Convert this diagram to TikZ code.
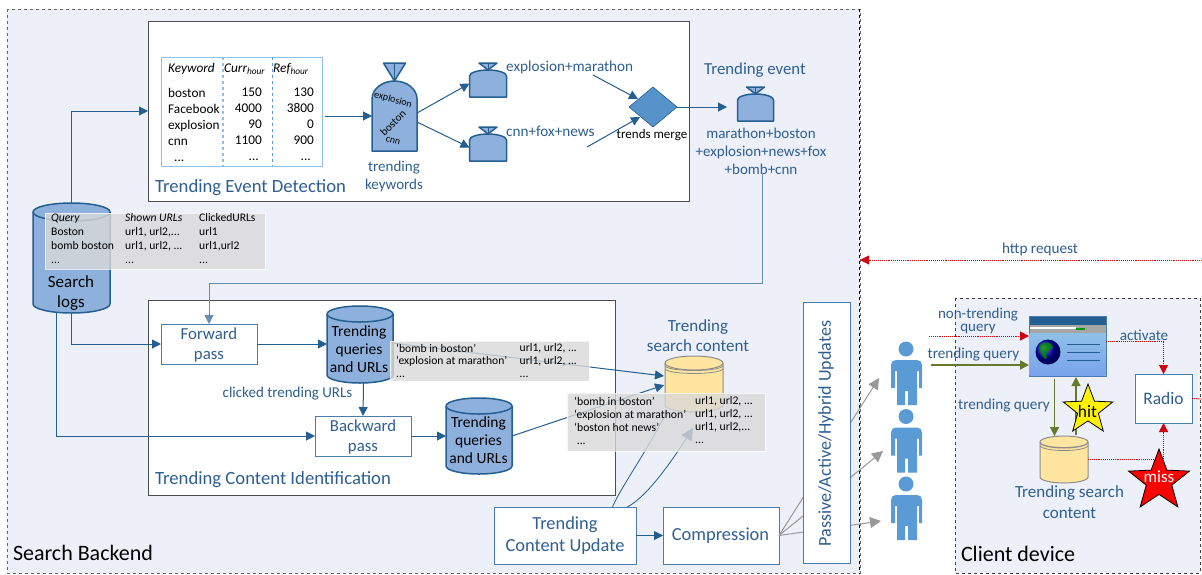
\documentclass[tikz,border=0pt]{standalone}
\usepackage{fontspec}
\setmainfont{Carlito}
\usetikzlibrary{arrows.meta,shapes.geometric}
\definecolor{bgc}{HTML}{EDF0F8}
\definecolor{txtb}{HTML}{2F5F92}
\definecolor{strk}{HTML}{255E91}
\definecolor{fillb}{HTML}{8DB1DC}
\definecolor{midb}{HTML}{5B9BD5}
\definecolor{ltb}{HTML}{8FC0E8}
\definecolor{boxb}{HTML}{4A7CAE}
\definecolor{oliv}{HTML}{667A2E}
\definecolor{redd}{HTML}{D00010}
\definecolor{yel}{HTML}{FFE5A0}
\definecolor{gryy}{HTML}{D9D9D9}
\tikzset{
 x=1pt,y=-1pt,
 panel/.style={draw=black!70,line width=1pt,fill=white,inner sep=0,outer sep=0},
 bluebox/.style={draw=boxb,line width=1pt,fill=white,inner sep=0,outer sep=0},
 btext/.style={text=txtb,inner sep=0,align=center,font=\fontsize{15}{18}\selectfont},
 boxtext/.style={btext,font=\fontsize{16.8}{20}\selectfont},
 bigtext/.style={btext,font=\fontsize{18.4}{22}\selectfont},
 ttext/.style={text=black,inner sep=0,font=\fontsize{13.3}{16}\selectfont},
 gtext/.style={text=black,inner sep=0,font=\fontsize{11.6}{14}\selectfont,align=left},
 conn/.style={draw=strk,line width=1pt,-{Triangle[length=9pt,width=9pt]}},
 reddot/.style={draw=redd,line width=1pt,dash pattern=on 1pt off .9pt,-{Triangle[length=9pt,width=9pt]}},
 olive/.style={draw=oliv,line width=1.2pt,-{Triangle[length=9pt,width=9pt]}},
 gryarrow/.style={draw=black!40,line width=1pt,-{Triangle[length=11pt,width=11pt]}},
 overlay box/.style={fill=gryy,fill opacity=.8,draw=white,draw opacity=.7,line width=1pt,inner sep=0,outer sep=0},
 hold/.style={inner sep=0,outer sep=0},
}
\newcommand{\mycyl}[9]{%
 \pgfmathsetmacro\cxa{(#2+#3)/2}\pgfmathsetmacro\rxa{(#3-#2)/2}%
 \pgfmathsetmacro\cya{(#4+#5)/2}\pgfmathsetmacro\wa{#3-#2}\pgfmathsetmacro\ha{#5-#4}%
 \pgfmathsetmacro\ta{#4+#6}\pgfmathsetmacro\ba{#5-#6}\pgfmathsetmacro\kx{\rxa*.55}\pgfmathsetmacro\ky{#6*.55}%
 \draw[fill=#7,draw=#8,line width=#9] (#2,\ta) -- (#2,\ba) .. controls (#2,\ba+\ky) and (\cxa-\kx,#5) .. (\cxa,#5) .. controls (\cxa+\kx,#5) and (#3,\ba+\ky) .. (#3,\ba) -- (#3,\ta) .. controls (#3,\ta-\ky) and (\cxa+\kx,#4) .. (\cxa,#4) .. controls (\cxa-\kx,#4) and (#2,\ta-\ky) .. cycle;
 \draw[draw=#8,line width=#9] (#2,\ta) .. controls (#2,\ta+\ky) and (\cxa-\kx,\ta+#6) .. (\cxa,\ta+#6) .. controls (\cxa+\kx,\ta+#6) and (#3,\ta+\ky) .. (#3,\ta);
 \node[hold,minimum width=\wa pt,minimum height=\ha pt] (#1) at (\cxa,\cya) {};
}
\newcommand{\mybag}[8]{%
 \pgfmathsetmacro\cxa{(#2+#3)/2}\pgfmathsetmacro\wa{#3-#2}\pgfmathsetmacro\ha{#6-#5}\pgfmathsetmacro\cya{(#5+#6)/2}%
 \pgfmathsetmacro\sha{#5+#8}\pgfmathsetmacro\kx{(\wa/2)*.55}\pgfmathsetmacro\ky{#8*.55}%
 \draw[fill=fillb,draw=strk,line width=1.5pt,line join=round] (#2,#6) -- (#2,\sha) .. controls (#2,\sha-\ky) and (\cxa-\kx,#5) .. (\cxa,#5) .. controls (\cxa+\kx,#5) and (#3,\sha-\ky) .. (#3,\sha) -- (#3,#6) -- cycle;
 \draw[fill=fillb,draw=strk,line width=1.5pt,line join=round] (\cxa,#5) -- (\cxa-#7,#4) -- (\cxa+#7,#4) -- cycle;
 \draw[draw=strk,line width=1pt] (\cxa,#5) -- (\cxa,#4);
 \node[hold,minimum width=\wa pt,minimum height=\ha pt] (#1) at (\cxa,\cya) {};
}
\newcommand{\myperson}[3]{%
 \begin{scope}[shift={(#2,#3)}]
 \fill[midb] (0,349) circle[radius=7.5];
 \fill[midb] (-15,365) .. controls (-15,362) and (-13,360) .. (-10,360) -- (11,360) .. controls (14,360) and (16,362) .. (16,365) -- (16,388) -- (13,388) -- (13,371) -- (11,371) -- (11,405) -- (2,405) -- (2,391) -- (-1,391) -- (-1,405) -- (-9,405) -- (-9,371) -- (-11,371) -- (-11,388) -- (-15,388) -- cycle;
 \node[hold,minimum width=31pt,minimum height=64pt] (#1) at (0,373) {};
 \end{scope}
}
\newcommand{\mystar}[4]{%
 \pgfmathsetmacro\rin{#3*.42}%
 \begin{scope}[shift={(#1,#2)}]
 \draw[fill=#4,draw=black,line width=.8pt,line join=miter] (90:#3pt) -- (126:\rin pt) -- (162:#3pt) -- (198:\rin pt) -- (234:#3pt) -- (270:\rin pt) -- (306:#3pt) -- (342:\rin pt) -- (18:#3pt) -- (54:\rin pt) -- cycle;
 \end{scope}
}
\begin{document}
\begin{tikzpicture}
\useasboundingbox (0,0) rectangle (1202,574);
\fill[white] (0,0) rectangle (1202,574);
\draw[fill=bgc,draw=black!60,line width=1pt,dashed] (7,9) rectangle (860,573);
\draw[draw=black,line width=.8pt,dashed] (859.5,9) -- (859.5,574);
\draw[fill=bgc,draw=black!75,line width=1pt,dashed] (955,298) rectangle (1200,573);
\node[hold,text=black,anchor=west,font=\fontsize{22}{24}\selectfont] (backendlbl) at (13,553) {Search Backend};
\node[hold,text=black,anchor=west,font=\fontsize{22}{24}\selectfont] (clientlbl) at (961,554) {Client device};
\node[panel,minimum width=541pt,minimum height=180pt] (detect) at (418.5,111) {};
\node[panel,minimum width=467pt,minimum height=195pt] (identify) at (381.5,397.5) {};
\node[btext,anchor=west,font=\fontsize{18.7}{22}\selectfont] (detectlbl) at (155,188) {Trending Event Detection};
\node[btext,anchor=west,font=\fontsize{18.7}{22}\selectfont] (identlbl) at (155,480) {Trending Content Identification};
\node[hold,draw=ltb,line width=1pt,fill=white,minimum width=161pt,minimum height=109pt] (kwtable) at (241.5,111.5) {};
\draw[ltb,line width=1.2pt,dashed] (223,57) -- (223,166);
\draw[midb,line width=.8pt,dashed] (272.5,57) -- (272.5,166);
\node[ttext,anchor=west] (h1) at (168,69) {\itshape Keyword};
\node[ttext,anchor=west] (h2) at (224,69) {\itshape Curr\textsubscript{hour}};
\node[ttext,anchor=west] (h3) at (273,69) {\itshape Ref\textsubscript{hour}};
\node[ttext,anchor=north west,align=left] (c1) at (168,88) {boston\\Facebook\\explosion\\cnn\\\ \ ...};
\node[ttext,anchor=north east,align=right] (c2) at (262,88) {150\\4000\\90\ \\1100\\...\ \ };
\node[ttext,anchor=north east,align=right] (c3) at (314,88) {130\\3800\\0\ \\900\\...\ \ };
\mybag{kwbag}{372}{417}{63}{81}{151}{11}{18}
\node[hold,text=black,rotate=-15,font=\fontsize{10}{12}\selectfont] (bk1) at (393,100) {explosion};
\node[hold,text=black,rotate=45,font=\fontsize{11}{12}\selectfont] (bk2) at (393,123) {boston};
\node[hold,text=black,rotate=-15,font=\fontsize{10}{12}\selectfont] (bk3) at (393,141) {cnn};
\mybag{bagA}{469.5}{506.5}{63}{70}{97}{9}{6}
\mybag{bagB}{469.5}{506.5}{127}{134}{161}{9}{6}
\mybag{bagC}{737.5}{773.5}{87}{94}{121}{9}{6}
\node[hold,diamond,aspect=1.2,fill=midb!95!black,draw=strk,line width=.6pt,minimum width=48pt,minimum height=40pt] (merge) at (653,107) {};
\node[btext,text=black,font=\fontsize{13}{16}\selectfont] (mergelbl) at (652,135) {trends merge};
\node[btext,anchor=west,font=\fontsize{15.2}{17}\selectfont] (keyA) at (506,67) {explosion+marathon};
\node[btext,anchor=west,font=\fontsize{15.2}{17}\selectfont] (keyB) at (506,131) {cnn+fox+news};
\node[btext] (trkw) at (394,176) {trending\\keywords};
\node[btext,font=\fontsize{16.8}{20}\selectfont] (evtlbl) at (755,70) {Trending event};
\node[btext,font=\fontsize{15}{18}\selectfont] (evt) at (761,151) {marathon+boston\\+explosion+news+fox\\+bomb+cnn};
\mycyl{logs}{33}{110}{203}{313}{9}{fillb}{strk}{1.5pt}
\node[hold,text=black,align=center,font=\fontsize{17}{20}\selectfont] (logslbl) at (71,293) {Search\\logs};
\mycyl{tq}{327}{393}{306}{383}{8}{fillb}{strk}{1.5pt}
\node[hold,text=black,align=center,font=\fontsize{15.5}{18}\selectfont] (tqlbl) at (359,349) {Trending\\queries\\and URLs};
\mycyl{tqb}{446}{512}{398}{474}{8}{fillb}{strk}{1.5pt}
\node[hold,text=black,align=center,font=\fontsize{15.5}{18}\selectfont] (tqblbl) at (478.5,440.5) {Trending\\queries\\and URLs};
\node[bluebox,minimum width=96pt,minimum height=40pt] (fwd) at (209,344) {};
\node[boxtext] (fwdlbl) at (209,345) {Forward\\pass};
\node[bluebox,minimum width=96pt,minimum height=40pt] (bwd) at (363,436) {};
\node[boxtext] (bwdlbl) at (363,437) {Backward\\pass};
\node[btext,font=\fontsize{15}{17}\selectfont] (clk) at (287.5,394) {clicked trending URLs};
\mycyl{yc}{665}{723}{356}{412}{7}{yel}{black!45}{1pt}
\draw[black!45,line width=.8pt] (665,366) .. controls (670,372) and (718,372) .. (723,366);
\draw[black!45,line width=.8pt] (665,369) .. controls (670,375) and (718,375) .. (723,369);
\node[btext,font=\fontsize{17}{20}\selectfont] (yclbl) at (698,336) {Trending\\search content};
\coordinate (curveA) at (667,411);
\coordinate (curveB) at (693,428);
\coordinate (curveS) at (612,508);
\draw[draw=strk,line width=.8pt] (curveS) .. controls (622,485) and (648,450) .. (curveA);
\draw[draw=strk,line width=.8pt,-{Triangle[length=12pt,width=12pt]}] (curveS) .. controls (625,516) and (650,495) .. (curveB);
\node[bluebox,minimum width=142pt,minimum height=57pt] (tcu) at (565,535.5) {};
\node[bigtext] (tculbl) at (565,536) {Trending\\Content Update};
\node[bluebox,minimum width=116pt,minimum height=57pt] (comp) at (721,535.5) {};
\node[bigtext] (complbl) at (720.5,536) {Compression};
\coordinate (pa) at (879,378);
\coordinate (pb) at (883,451);
\coordinate (pc) at (881,521);
\draw[gryarrow] (comp.east) -- (pa);
\draw[gryarrow] (comp.east) -- (pb);
\draw[gryarrow] (comp.east) -- (pc);
\node[bluebox,minimum width=47pt,minimum height=261pt] (upd) at (826.5,432.5) {};
\node[btext,rotate=90,font=\fontsize{18.1}{20}\selectfont] (updlbl) at (826,433.5) {Passive/Active/Hybrid Updates};
\myperson{p1}{906}{0}
\myperson{p2}{906}{67.5}
\myperson{p3}{906}{135}
\draw[conn] (logs.north) |- (detect.west);
\draw[conn] (logs.south) |- (fwd.west);
\draw[conn] ([xshift=-15pt]logs.south) |- (bwd.west);
\draw[conn] (kwtable.east |- kwbag.west) ++(3,0) -- (kwbag.west);
\draw[conn] ([yshift=3pt]kwbag.east) -- (bagA.west);
\draw[conn] ([yshift=-6pt]kwbag.east) -- (bagB.west);
\coordinate (ka) at (593,75);
\coordinate (kb) at (587,147);
\coordinate (kc) at (638,99);
\coordinate (kd) at (640,117);
\coordinate (ke) at (727,107);
\draw[conn] (ka) -- (kc);
\draw[conn] (kb) -- (kd);
\draw[conn] (merge.east) -- (ke);
\draw[conn,draw=strk!70] (evt.south) ++(1,0) coordinate (ev) -- (ev |- 0,283) -- (fwd.north |- 0,283) -- (fwd.north);
\draw[conn] (fwd.east) -- (tq.west |- fwd.east);
\draw[conn] ([xshift=3.5pt]tq.south) -- (bwd.north);
\draw[conn] (bwd.east) -- (tqb.west);
\draw[conn] (tcu.east) -- (comp.west);
\coordinate (tqout) at (392,343);
\coordinate (yca) at (664,376);
\coordinate (ycb) at (664,385);
\draw[conn] (tqout) -- (yca);
\draw[conn] (tqb.east) -- (ycb);
\node[overlay box,minimum width=220pt,minimum height=56pt] (gA) at (155,241) {};
\node[gtext,anchor=north west] (gA1) at (51,213.5) {\itshape Query\\\upshape Boston\\bomb boston\\...};
\node[gtext,anchor=north west] (gA2) at (125,213.5) {\itshape Shown URLs\\\upshape url1, url2,...\\url1, url2, ...\\...};
\node[gtext,anchor=north west] (gA3) at (199,213.5) {ClickedURLs\\url1\\url1,url2\\...};
\node[overlay box,minimum width=199pt,minimum height=40pt] (gB) at (489.5,361) {};
\node[gtext,anchor=north west,font=\fontsize{11.6}{12.7}\selectfont] (gB1) at (396,343.5) {‘bomb in boston’\\‘explosion at marathon’\\...};
\node[gtext,anchor=north west,font=\fontsize{11.6}{12.7}\selectfont] (gB2) at (519.5,343.5) {url1, url2, ...\\url1, url2, ...\\...};
\node[overlay box,minimum width=198pt,minimum height=58pt] (gC) at (666,422) {};
\node[gtext,anchor=north west,font=\fontsize{11.7}{13}\selectfont] (gC1) at (574,396.5) {‘bomb in boston’\\‘explosion at marathon’\\‘boston hot news’\\\ ...};
\node[gtext,anchor=north west,font=\fontsize{11.7}{13}\selectfont] (gC2) at (695,396.5) {url1, url2, ...\\url1, url2, ...\\url1, url2,...\\...};
\node[hold,fill=white,draw=boxb,line width=1pt,minimum width=57pt,minimum height=49pt,text=txtb,font=\fontsize{17.5}{20}\selectfont] (radio) at (1163.5,398.5) {Radio};
\node[hold,draw=boxb,line width=1pt,minimum width=77pt,minimum height=60pt] (browser) at (1067.5,346) {};
\shade[top color=ltb,middle color=white!75!ltb,bottom color=ltb!85!blue] (1029.5,333) rectangle (1105.5,375.5);
\fill[strk] (1029.5,316.5) rectangle (1105.5,325);
\fill[black!35] (1029.5,325) rectangle (1105.5,333);
\fill[white] (1030,327) rectangle (1076,329);
\fill[green!60!black] (1076,328) rectangle (1085,329.5);
\shade[ball color=blue!70!black] (1048,352) circle[radius=12.5];
\fill[green!55!black,opacity=.8] (1040,345) .. controls (1046,340) and (1052,343) .. (1053,347) .. controls (1050,352) and (1044,350) .. (1047,358) -- (1045,359) .. controls (1041,356) and (1039,350) .. cycle;
\draw[strk,line width=.8pt] (1067,344.5) -- (1100,344.5);
\draw[strk,line width=.8pt] (1067,352.5) -- (1100,352.5);
\draw[strk,line width=.8pt] (1067,360.5) -- (1100,360.5);
\mycyl{ycs}{1040}{1088}{436}{483}{6}{yel}{black!45}{1pt}
\draw[black!45,line width=.8pt] (1040,443) .. controls (1045,449) and (1083,449) .. (1088,443);
\draw[black!45,line width=.8pt] (1040,446) .. controls (1045,452) and (1083,452) .. (1088,446);
\node[btext,font=\fontsize{17}{21.5}\selectfont] (ycslbl) at (1069.5,502) {Trending search\\content};
\node[btext,font=\fontsize{15}{13}\selectfont] (ntq) at (978,321) {non-trending\\query};
\node[btext,font=\fontsize{15.2}{16}\selectfont] (tq1) at (973.5,355) {trending query};
\node[btext,font=\fontsize{15.2}{16}\selectfont] (tq2) at (1004,406) {trending query};
\node[btext,font=\fontsize{15.2}{16}\selectfont] (act) at (1144,335) {activate};
\node[btext,font=\fontsize{15.2}{16}\selectfont] (http) at (1040,249) {http request};
\coordinate (edgeA) at (1202,260);
\coordinate (edgeB) at (1202,399);
\coordinate (bckA) at (860,260);
\coordinate (ntqs) at (929,336);
\coordinate (tqs) at (931,365);
\draw[reddot] (edgeA) -- (bckA);
\draw[reddot] (ntqs) -- (browser.west |- ntqs);
\draw[olive,line width=1.8pt] (tqs) -- (browser.west |- tqs);
\draw[reddot] (browser.east |- 0,341) -| (radio.north);
\draw[reddot] (ycs.east) -| (radio.south);
\draw[redd,line width=1pt,dash pattern=on 1pt off .9pt] (radio.east) -- (edgeB);
\draw[olive] (1054.5,379) -- (ycs.north -| 1054.5,0);
\draw[olive] (1076,435) -- (1076,377);
\mystar{1088}{410}{26}{yellow}
\node[hold,text=black,font=\fontsize{17.5}{18}\selectfont] (hit) at (1087.5,411) {hit};
\mystar{1159}{481}{32}{red}
\node[hold,text=white,font=\fontsize{17}{18}\selectfont] (miss) at (1159,477) {miss};
\end{tikzpicture}
\end{document}
